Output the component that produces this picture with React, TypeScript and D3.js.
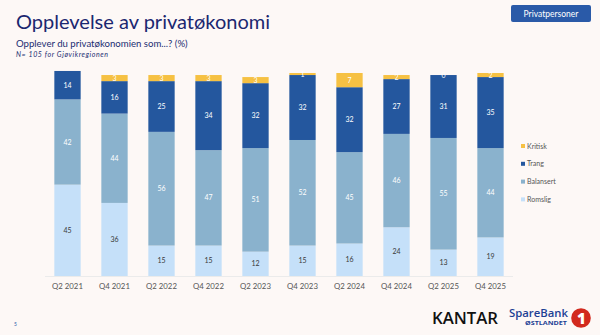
import React from "react";
import * as d3 from "d3";

const categories = ["Q2 2021","Q4 2021","Q2 2022","Q4 2022","Q2 2023","Q4 2023","Q2 2024","Q4 2024","Q2 2025","Q4 2025"];
const romslig = [45, 36, 15, 15, 12, 15, 16, 24, 13, 19];
const balansert = [42, 44, 56, 47, 51, 52, 45, 46, 55, 44];
const trang = [14, 16, 25, 34, 32, 32, 32, 27, 31, 35];
const kritisk: (number | null)[] = [null, 3, 3, 3, 3, 1, 7, 2, 0, 2];

const seriesNames = ["Romslig", "Balansert", "Trang", "Kritisk"];
const seriesColors = ["#c5e0f9", "#8ab2cd", "#24579e", "#f6c143"];
const labelColors = ["#3a3a3a", "#ffffff", "#ffffff", "#ffffff"];
const legendOrder = ["Kritisk", "Trang", "Balansert", "Romslig"];

const W = 600, H = 335;
const FONT = "Lato, 'Noto Sans', sans-serif";

export default function App() {
  const x = d3.scaleBand<string>().domain(categories).range([44, 514]).paddingInner(0.44).paddingOuter(0.22);
  const y = d3.scaleLinear().domain([0, 100]).range([276, 73]);
  const seriesData = [romslig, balansert, trang, kritisk];

  const bars: React.ReactNode[] = [];
  categories.forEach((c, i) => {
    let acc = 0;
    seriesData.forEach((s, k) => {
      const v = s[i];
      if (v === null || v === undefined) return;
      const y0 = y(acc), y1 = y(acc + v);
      acc += v;
      const bx = x(c)!;
      bars.push(
        <rect key={`r${i}-${k}`} x={bx} y={y1} width={x.bandwidth()} height={Math.max(0, y0 - y1)}
          fill={seriesColors[k]} />
      );
      bars.push(
        <text key={`t${i}-${k}`} x={bx + x.bandwidth() / 2} y={(y0 + y1) / 2 + 2.5} textAnchor="middle"
          fontSize={7} fill={labelColors[k]} fontFamily={FONT}>{v}</text>
      );
    });
  });

  return (
    <svg width={W} height={H} style={{ position: "absolute", left: 0, top: 0, background: "#fdf8f6" }}>
      <rect x={0} y={0} width={W} height={H} fill="#fdf8f6" />
      <text x={16} y={29} fontSize={20} fill="#1b2770" fontFamily={FONT}>Opplevelse av privatøkonomi</text>
      <text x={16} y={47} fontSize={9.6} fill="#1b2d72" fontFamily={FONT}>Opplever du privatøkonomien som...? (%)</text>
      <text x={16} y={57} fontSize={7} fill="#1b2d72" fontStyle="italic" fontFamily={FONT} textLength={92} lengthAdjust="spacing">N= 105 for Gjøvikregionen</text>

      <rect x={511} y={5} width={80} height={17} rx={2} fill="#2a5aa8" />
      <text x={551} y={16.5} textAnchor="middle" fontSize={8.5} fill="#ffffff" fontFamily={FONT}>Privatpersoner</text>

      <line x1={45} x2={513} y1={276.5} y2={276.5} stroke="#ebebeb" strokeWidth={1} />
      {bars}
      {categories.map((c) => (
        <text key={c} x={x(c)! + x.bandwidth() / 2} y={288.5} textAnchor="middle" fontSize={7.8} fill="#555" fontFamily={FONT}>{c}</text>
      ))}

      {legendOrder.map((n, i) => {
        const k = seriesNames.indexOf(n);
        return (
          <g key={n} transform={`translate(521, ${144 + i * 17.8})`}>
            <rect x={0} y={0} width={4} height={4} fill={seriesColors[k]} />
            <text x={6} y={4.5} fontSize={7} fill="#555" fontFamily={FONT}>{n}</text>
          </g>
        );
      })}

      <text x={14} y={326} fontSize={5} fill="#2a5aa8" fontFamily={FONT}>5</text>

      <text x={432} y={323.5} fontSize={16} fontWeight={600} fill="#111" fontFamily="'Open Sans', sans-serif" textLength={66} lengthAdjust="spacingAndGlyphs">KANTAR</text>
      <text x={509} y={317} fontSize={11} fontWeight={600} fill="#1c3f94" fontFamily="'Open Sans', sans-serif" textLength={59} lengthAdjust="spacingAndGlyphs">SpareBank</text>
      <text x={525} y={324.5} fontSize={4.8} fontWeight={700} fill="#1c3f94" fontFamily="'Open Sans', sans-serif" textLength={42} lengthAdjust="spacingAndGlyphs">ØSTLANDET</text>
      <circle cx={581} cy={318} r={9.8} fill="#d22a1e" />
      <text x={581.5} y={323.5} textAnchor="middle" fontSize={15} fontWeight={800} fill="#fff" fontFamily="'Open Sans', sans-serif">1</text>
    </svg>
  );
}
